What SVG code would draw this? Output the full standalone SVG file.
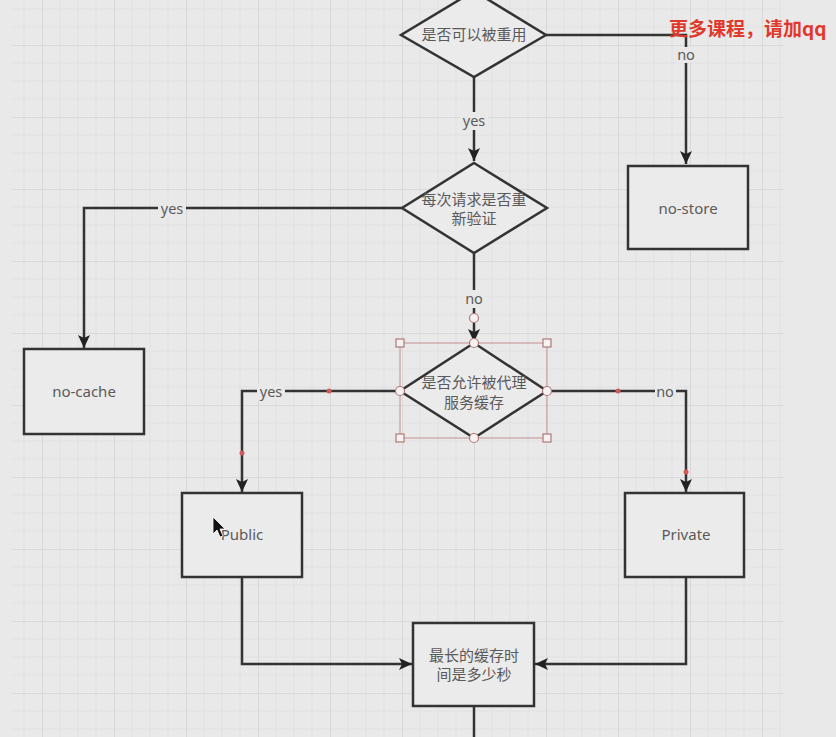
<svg xmlns="http://www.w3.org/2000/svg" width="836" height="737" viewBox="0 0 836 737">
<style>
.node{fill:#ebebeb;stroke:#333;stroke-width:2.5}
.t{font-family:"Noto Sans","Noto Sans CJK SC",sans-serif;font-size:15px;fill:#5a5a5a;text-anchor:middle}
.lbl{font-family:"Noto Sans","Noto Sans CJK SC",sans-serif;font-size:14.5px;fill:#5a5a5a;text-anchor:middle}
.lblbg{fill:#e9e9e9}
.edge{fill:none;stroke:#333;stroke-width:2.5}
.sel{fill:none;stroke:#c49090;stroke-width:1}
.hdl{fill:#f6f2f2;stroke:#b07878;stroke-width:1.2}
.dot{fill:#d05a5a}
.wm{font-family:"Noto Sans CJK SC",sans-serif;font-size:19px;font-weight:bold;fill:#e0392b}
</style>
<defs>
<pattern id="grid" patternUnits="userSpaceOnUse" x="42" y="45" width="72" height="72">
<rect width="72" height="72" fill="#e9e9e9"/>
<path d="M18 0V72M36 0V72M54 0V72M0 18H72M0 36H72M0 54H72" stroke="#e2e2e2" stroke-width="1"/>
<path d="M0.5 0V72M0 0.5H72" stroke="#d9d9d9" stroke-width="1"/>
</pattern>
<marker id="arr" markerUnits="userSpaceOnUse" markerWidth="14" markerHeight="12" refX="13" refY="6" orient="auto">
<path d="M0 0L13 6L0 12L3 6z" fill="#222"/>
</marker>
</defs>
<rect width="836" height="737" fill="#e9e9e9"/>
<rect x="12" y="0" width="771" height="737" fill="url(#grid)"/>

<g id="connectors">
<path class="edge" d="M474 77V161" marker-end="url(#arr)"/>
<path class="edge" d="M546 35H686V164" marker-end="url(#arr)"/>
<path class="edge" d="M402 208H84V348" marker-end="url(#arr)"/>
<path class="edge" d="M474 253V342" marker-end="url(#arr)"/>
<path class="edge" d="M400 391H242V492" marker-end="url(#arr)"/>
<path class="edge" d="M547 391H686V492" marker-end="url(#arr)"/>
<path class="edge" d="M242 577V664H412" marker-end="url(#arr)"/>
<path class="edge" d="M686 577V664H535" marker-end="url(#arr)"/>
<path class="edge" d="M474 706V740"/>
<rect class="lblbg" x="460" y="112" width="28" height="18"/>
<text class="lbl" x="474" y="126">yes</text>
<rect class="lblbg" x="676" y="47" width="20" height="16"/>
<text class="lbl" x="686" y="60">no</text>
<rect class="lblbg" x="158" y="201" width="28" height="16"/>
<text class="lbl" x="172" y="214">yes</text>
<rect class="lblbg" x="463" y="290" width="22" height="18"/>
<text class="lbl" x="474" y="304">no</text>
<circle cx="474" cy="318" r="4.5" fill="#f6f2f2" stroke="#b07878" stroke-width="1.2"/>
<rect class="lblbg" x="257" y="384" width="28" height="16"/>
<text class="lbl" x="271" y="397">yes</text>
<rect class="lblbg" x="655" y="384" width="21" height="16"/>
<text class="lbl" x="665" y="397">no</text>
<circle class="dot" cx="329" cy="391" r="2.5"/>
<circle class="dot" cx="618" cy="391" r="2.5"/>
<circle class="dot" cx="242" cy="453" r="2.5"/>
<circle class="dot" cx="686" cy="472" r="2.5"/>
</g>

<g id="d1">
<polygon class="node" points="474,-9 546,35 474,77 401,35"/>
<text class="t" x="474" y="40">是否可以被重用</text>
</g>
<g id="d2">
<polygon class="node" points="474,163 547,208 474,253 402,208"/>
<text class="t" x="474" y="205">每次请求是否重</text>
<text class="t" x="474" y="224">新验证</text>
</g>
<g id="d3">
<polygon class="node" points="474,343 547,391 474,438 400,391"/>
<text class="t" x="474" y="388">是否允许被代理</text>
<text class="t" x="474" y="408">服务缓存</text>
<rect class="sel" x="400" y="343" width="147" height="95"/>
<rect class="hdl" x="396" y="339" width="8" height="8"/>
<rect class="hdl" x="543" y="339" width="8" height="8"/>
<rect class="hdl" x="396" y="434" width="8" height="8"/>
<rect class="hdl" x="543" y="434" width="8" height="8"/>
<circle class="hdl" cx="474" cy="343" r="4.5"/>
<circle class="hdl" cx="400" cy="391" r="4.5"/>
<circle class="hdl" cx="547" cy="391" r="4.5"/>
<circle class="hdl" cx="474" cy="438" r="4.5"/>
</g>
<g id="no-store">
<rect class="node" x="628" y="166" width="120" height="83"/>
<text class="t" x="688" y="214">no-store</text>
</g>
<g id="no-cache">
<rect class="node" x="24" y="349" width="120" height="85"/>
<text class="t" x="84" y="397">no-cache</text>
</g>
<g id="public">
<rect class="node" x="182" y="493" width="120" height="84"/>
<text class="t" x="242" y="540">Public</text>
</g>
<g id="private">
<rect class="node" x="625" y="493" width="119" height="84"/>
<text class="t" x="686" y="540">Private</text>
</g>
<g id="maxage">
<rect class="node" x="413" y="623" width="121" height="83"/>
<text class="t" x="474" y="661">最长的缓存时</text>
<text class="t" x="474" y="680">间是多少秒</text>
</g>
<polygon points="213,517 213,534 217,530 220,537 223,536 220,529 225,529" fill="#111" stroke="#fff" stroke-width="0.8"/>
<text class="wm" x="669" y="36">更多课程，请加qq</text>
</svg>
